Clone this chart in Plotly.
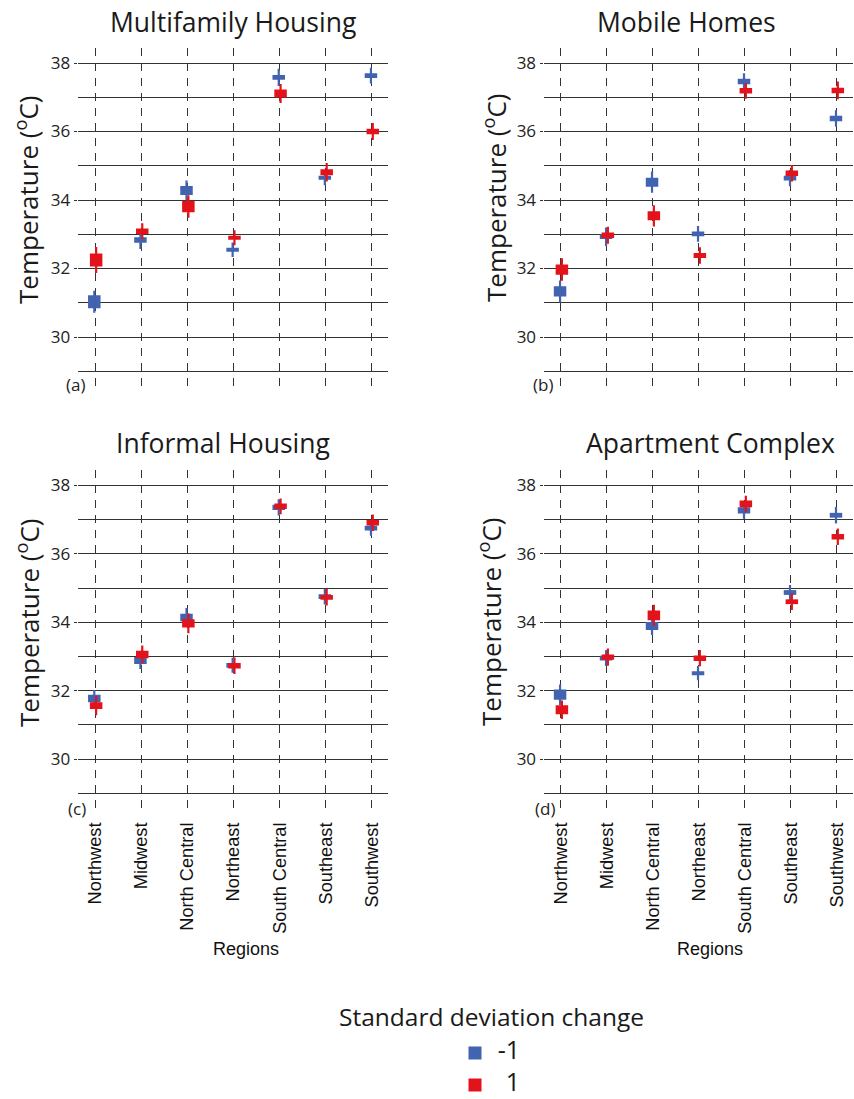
import plotly.graph_objects as go

# ---- data -------------------------------------------------------------
regions = ["Northwest", "Midwest", "North Central", "Northeast",
           "South Central", "Southeast", "Southwest"]

panel_titles = ["Multifamily Housing", "Mobile Homes",
                "Informal Housing", "Apartment Complex"]
panel_tags = ["(a)", "(b)", "(c)", "(d)"]

# Multifamily housing: mean, inner box half-width, whisker half-width (°C)
multifamily_neg = [31.03, 32.83, 34.28, 32.55, 37.58, 34.65, 37.63]
multifamily_neg_box = [0.19, 0.08, 0.13, 0.06, 0.07, 0.06, 0.07]
multifamily_neg_ci = [0.32, 0.26, 0.29, 0.21, 0.25, 0.22, 0.23]
multifamily_pos = [32.25, 33.09, 33.81, 32.90, 37.11, 34.81, 36.00]
multifamily_pos_box = [0.19, 0.08, 0.17, 0.06, 0.12, 0.09, 0.08]
multifamily_pos_ci = [0.38, 0.23, 0.33, 0.22, 0.28, 0.27, 0.25]

# Mobile homes
mobile_neg = [31.33, 32.93, 34.52, 33.01, 37.46, 34.64, 36.38]
mobile_neg_box = [0.15, 0.07, 0.13, 0.07, 0.08, 0.07, 0.08]
mobile_neg_ci = [0.32, 0.27, 0.31, 0.23, 0.24, 0.24, 0.24]
mobile_pos = [31.97, 32.97, 33.54, 32.38, 37.19, 34.78, 37.20]
mobile_pos_box = [0.15, 0.08, 0.13, 0.07, 0.08, 0.08, 0.08]
mobile_pos_ci = [0.33, 0.25, 0.31, 0.24, 0.23, 0.24, 0.26]

# Informal housing
informal_neg = [31.77, 32.88, 34.14, 32.74, 37.36, 34.75, 36.75]
informal_neg_box = [0.11, 0.10, 0.11, 0.07, 0.08, 0.07, 0.07]
informal_neg_ci = [0.25, 0.25, 0.28, 0.22, 0.24, 0.23, 0.22]
informal_pos = [31.56, 33.06, 33.97, 32.73, 37.39, 34.73, 36.91]
informal_pos_box = [0.10, 0.11, 0.12, 0.08, 0.08, 0.07, 0.08]
informal_pos_ci = [0.28, 0.26, 0.29, 0.24, 0.23, 0.24, 0.24]

# Apartment complex
apartment_neg = [31.88, 32.95, 33.89, 32.51, 37.27, 34.87, 37.13]
apartment_neg_box = [0.15, 0.07, 0.12, 0.06, 0.09, 0.07, 0.07]
apartment_neg_ci = [0.30, 0.23, 0.26, 0.21, 0.24, 0.22, 0.24]
apartment_pos = [31.44, 32.98, 34.20, 32.95, 37.46, 34.60, 36.50]
apartment_pos_box = [0.13, 0.08, 0.14, 0.08, 0.10, 0.07, 0.08]
apartment_pos_ci = [0.27, 0.25, 0.31, 0.24, 0.24, 0.24, 0.24]

series_names = ["-1", "1"]

# ---- styling ----------------------------------------------------------
BLUE = "#4163B0"
RED = "#E3131B"
GRID = "#333333"
FONT = "Open Sans"
ARIAL = "Liberation Sans"

W, H = 854, 1099

panels = [
    (multifamily_neg, multifamily_neg_box, multifamily_neg_ci,
     multifamily_pos, multifamily_pos_box, multifamily_pos_ci),
    (mobile_neg, mobile_neg_box, mobile_neg_ci,
     mobile_pos, mobile_pos_box, mobile_pos_ci),
    (informal_neg, informal_neg_box, informal_neg_ci,
     informal_pos, informal_pos_box, informal_pos_ci),
    (apartment_neg, apartment_neg_box, apartment_neg_ci,
     apartment_pos, apartment_pos_box, apartment_pos_ci),
]

# pixel layout of each panel's plotting area (left, right, top, bottom)
boxes_px = [
    (77.7, 388.0, 47.6, 388.4),
    (543.5, 853.0, 47.6, 388.4),
    (77.7, 388.0, 470.1, 810.3),
    (543.5, 853.0, 470.1, 810.3),
]

fig = go.Figure()
xpos = list(range(len(regions)))

for i, (neg, neg_box, neg_ci, pos, pos_box, pos_ci) in enumerate(panels):
    ax = "" if i == 0 else str(i + 1)
    for vals, box, ci, color, shift in (
        (neg, neg_box, neg_ci, BLUE, -0.02),
        (pos, pos_box, pos_ci, RED, 0.02),
    ):
        xs = [p + shift for p in xpos]
        # inner box drawn as a thick error bar
        fig.add_trace(go.Scatter(
            x=xs, y=vals, mode="markers",
            marker=dict(size=1, color="rgba(0,0,0,0)"),
            error_y=dict(type="data", array=box, symmetric=True,
                         thickness=12.5, width=0, color=color),
            showlegend=False, hoverinfo="y",
            xaxis="x" + ax, yaxis="y" + ax,
        ))
        # whisker
        fig.add_trace(go.Scatter(
            x=xs, y=vals, mode="markers",
            marker=dict(size=1, color="rgba(0,0,0,0)"),
            error_y=dict(type="data", array=ci, symmetric=True,
                         thickness=2.2, width=0, color=color),
            showlegend=False, hoverinfo="skip",
            xaxis="x" + ax, yaxis="y" + ax,
        ))

    l, r, t, b = boxes_px[i]
    bottom_row = i >= 2
    fig.layout["xaxis" + ax] = dict(
        domain=[l / W, r / W],
        range=[-0.38, 6.35],
        tickvals=xpos,
        ticktext=regions,
        showticklabels=bottom_row,
        tickangle=-90,
        ticks="outside" if bottom_row else "",
        ticklen=4, tickcolor="rgba(0,0,0,0)",
        tickfont=dict(family=ARIAL, size=18.2, color="#111"),
        showgrid=True, gridcolor=GRID, gridwidth=1, griddash="8px,7px",
        zeroline=False, showline=False,
        anchor="y" + ax,
    )
    fig.layout["yaxis" + ax] = dict(
        domain=[1 - b / H, 1 - t / H],
        range=[28.5, 38.45],
        tick0=30, dtick=2,
        ticks="outside", ticklen=3, tickcolor=GRID,
        tickfont=dict(family=FONT, size=17, color="#222"),
        showgrid=True, gridcolor=GRID, gridwidth=1,
        minor=dict(tick0=29, dtick=1, showgrid=True,
                   gridcolor=GRID, gridwidth=1, ticks=""),
        zeroline=False, showline=False,
        anchor="x" + ax,
    )

# legend key: a square and a right-aligned label per series
fig.add_trace(go.Scatter(
    x=[0, 0], y=series_names, mode="markers",
    marker=dict(symbol="square", size=13, color=[BLUE, RED]),
    cliponaxis=False,
    showlegend=False, hoverinfo="skip", xaxis="x5", yaxis="y5",
))
fig.add_trace(go.Scatter(
    x=[1, 1], y=series_names, mode="text", text=series_names,
    textposition="middle left",
    textfont=dict(family=FONT, size=25, color="#1a1a1a"),
    cliponaxis=False,
    showlegend=False, hoverinfo="skip", xaxis="x5", yaxis="y5",
))
fig.layout["xaxis5"] = dict(
    domain=[475 / W, 520 / W], range=[0, 1], visible=False,
    fixedrange=True, anchor="y5",
)
fig.layout["yaxis5"] = dict(
    domain=[1 - 1085 / H, 1 - 1053 / H], type="category",
    range=[1, 0], visible=False, fixedrange=True, anchor="x5",
)

annotations = []
title_pos = [(233, 22), (686, 22), (223, 443), (710, 443)]
for txt, (x, y) in zip(panel_titles, title_pos):
    annotations.append(dict(
        text=txt, x=x / W, y=1 - y / H, xref="paper", yref="paper",
        showarrow=False, xanchor="center", yanchor="middle",
        font=dict(family=FONT, size=26.5, color="#1a1a1a"),
    ))

ytitle_pos = [(27, 200), (495, 198), (28, 623), (490, 622)]
for (x, y) in ytitle_pos:
    annotations.append(dict(
        text="Temperature (<sup>o</sup>C)", x=x / W, y=1 - y / H,
        xref="paper", yref="paper", showarrow=False, textangle=-90,
        xanchor="center", yanchor="middle",
        font=dict(family=FONT, size=26, color="#1a1a1a"),
    ))

tag_pos = [(75, 384), (543, 384), (77, 808), (545, 808)]
for txt, (x, y) in zip(panel_tags, tag_pos):
    annotations.append(dict(
        text=txt, x=x / W, y=1 - y / H, xref="paper", yref="paper",
        showarrow=False, xanchor="center", yanchor="middle",
        font=dict(family=FONT, size=17, color="#222"),
    ))

for x in (246, 710):
    annotations.append(dict(
        text="Regions", x=x / W, y=1 - 949 / H, xref="paper", yref="paper",
        showarrow=False, xanchor="center", yanchor="middle",
        font=dict(family=ARIAL, size=18, color="#111"),
    ))

annotations.append(dict(
    text="Standard deviation change", x=491 / W, y=1 - 1016 / H,
    xref="paper", yref="paper", showarrow=False,
    xanchor="center", yanchor="middle",
    font=dict(family=FONT, size=24.5, color="#1a1a1a"),
))

fig.update_layout(
    width=W, height=H,
    margin=dict(l=0, r=0, t=0, b=0),
    paper_bgcolor="white", plot_bgcolor="white",
    annotations=annotations,
    showlegend=False,
)

fig.write_html("out.html")
